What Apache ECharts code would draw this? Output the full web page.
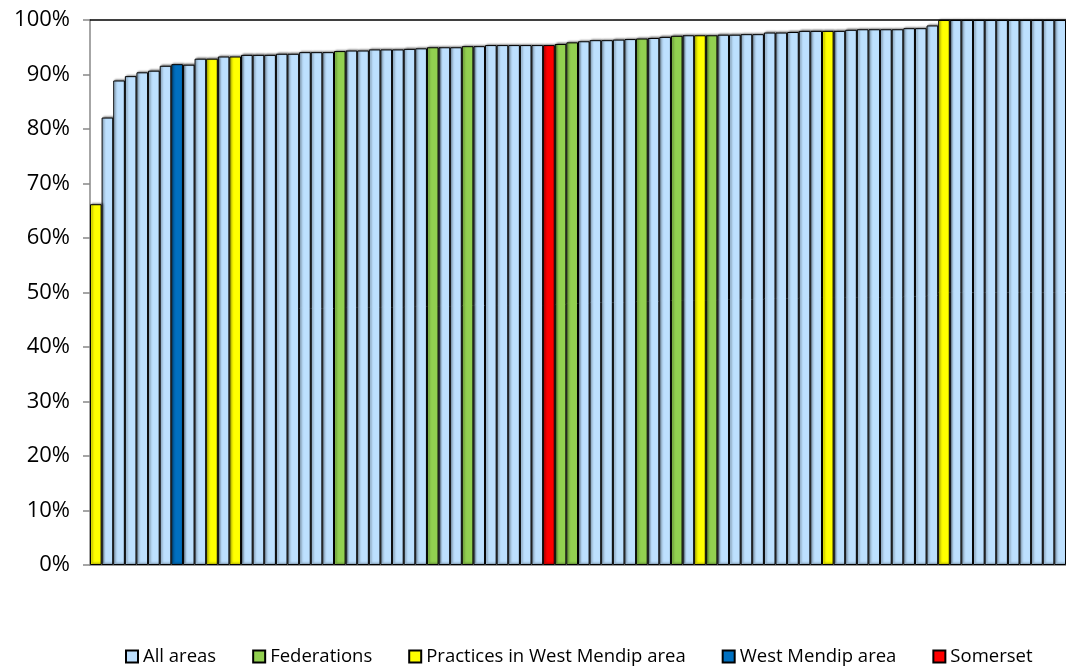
<!DOCTYPE html>
<html>
<head>
<meta charset="utf-8">
<script src="https://cdn.jsdelivr.net/npm/echarts@6/dist/echarts.min.js"></script>
<style>
html,body{margin:0;padding:0;background:#fff;}
#chart{width:1066px;height:668px;}
</style>
</head>
<body>
<div id="chart"></div>
<script>
// Values (%) for each practice / area, sorted ascending
const values = [
  66.2, 82.1, 88.9, 89.7, 90.4, 90.7, 91.6, 91.9, 91.8, 92.9,
  92.9, 93.3, 93.3, 93.6, 93.6, 93.6, 93.8, 93.8, 94.1, 94.1,
  94.1, 94.3, 94.4, 94.4, 94.6, 94.6, 94.6, 94.7, 94.8, 95.0,
  95.0, 95.0, 95.2, 95.2, 95.4, 95.4, 95.4, 95.4, 95.4, 95.4,
  95.6, 95.9, 96.1, 96.3, 96.3, 96.4, 96.5, 96.6, 96.7, 96.9,
  97.1, 97.2, 97.2, 97.2, 97.3, 97.3, 97.4, 97.4, 97.7, 97.7,
  97.8, 98.0, 98.0, 98.0, 98.0, 98.2, 98.3, 98.3, 98.3, 98.3,
  98.5, 98.5, 99.0, 100, 100, 100, 100, 100, 100, 100,
  100, 100, 100, 100
];
// Group of each bar: A = All areas, F = Federations, P = Practices in West Mendip area,
// W = West Mendip area, S = Somerset
const groups = [
  'P','A','A','A','A','A','A','W','A','A',
  'P','A','P','A','A','A','A','A','A','A',
  'A','F','A','A','A','A','A','A','A','F',
  'A','A','F','A','A','A','A','A','A','S',
  'F','F','A','A','A','A','A','F','A','A',
  'F','A','P','F','A','A','A','A','A','A',
  'A','A','A','P','A','A','A','A','A','A',
  'A','A','A','P','A','A','A','A','A','A',
  'A','A','A','A'
];
const seriesNames = ['All areas', 'Federations', 'Practices in West Mendip area', 'West Mendip area', 'Somerset'];
const seriesCodes = ['A', 'F', 'P', 'W', 'S'];
const seriesColors = ['#BDE0FE', '#92D050', '#FFFF00', '#0070C0', '#FF0000'];
const yTicks = [0, 10, 20, 30, 40, 50, 60, 70, 80, 90, 100];

const categories = values.map((v, i) => String(i + 1));

const series = seriesNames.map((name, k) => ({
  name: name,
  type: 'bar',
  stack: 'all',
  barCategoryGap: 0,
  itemStyle: {
    color: seriesColors[k],
    borderColor: '#000',
    borderWidth: 1,
    shadowColor: 'rgba(0,0,0,0.45)',
    shadowBlur: 2,
    shadowOffsetX: 1.5,
    shadowOffsetY: -1
  },
  emphasis: { disabled: true },
  data: values.map((v, i) => groups[i] === seriesCodes[k] ? v : null)
}));

const chart = echarts.init(document.getElementById('chart'), null, { renderer: 'canvas' });
chart.setOption({
  animation: false,
  backgroundColor: '#ffffff',
  grid: { left: 90, right: 0, top: 20, bottom: 103, containLabel: false },
  legend: {
    top: 642,
    left: 120,
    icon: 'rect',
    itemWidth: 12,
    itemHeight: 12,
    itemGap: 36,
    textStyle: { fontFamily: 'Open Sans', fontSize: 18.5, color: '#000' },
    data: seriesNames
  },
  xAxis: [{
    type: 'category',
    data: categories,
    axisLine: { show: true, lineStyle: { color: '#888', width: 1.5 } },
    axisTick: { show: false },
    axisLabel: { show: false },
    splitLine: { show: false }
  }, {
    type: 'category',
    position: 'top',
    data: categories,
    axisLine: { show: true, lineStyle: { color: '#000', width: 1.5 } },
    axisTick: { show: false },
    axisLabel: { show: false }
  }],
  yAxis: {
    type: 'value',
    min: yTicks[0],
    max: yTicks[yTicks.length - 1],
    interval: 10,
    axisLine: { show: true, lineStyle: { color: '#888', width: 1.5 } },
    axisTick: { show: true, length: 7, lineStyle: { color: '#888', width: 1.5 } },
    axisLabel: { formatter: '{value}%', fontFamily: 'Open Sans', fontSize: 22, color: '#000', margin: 20 },
    splitLine: { show: false }
  },
  series: series
});
</script>
</body>
</html>
